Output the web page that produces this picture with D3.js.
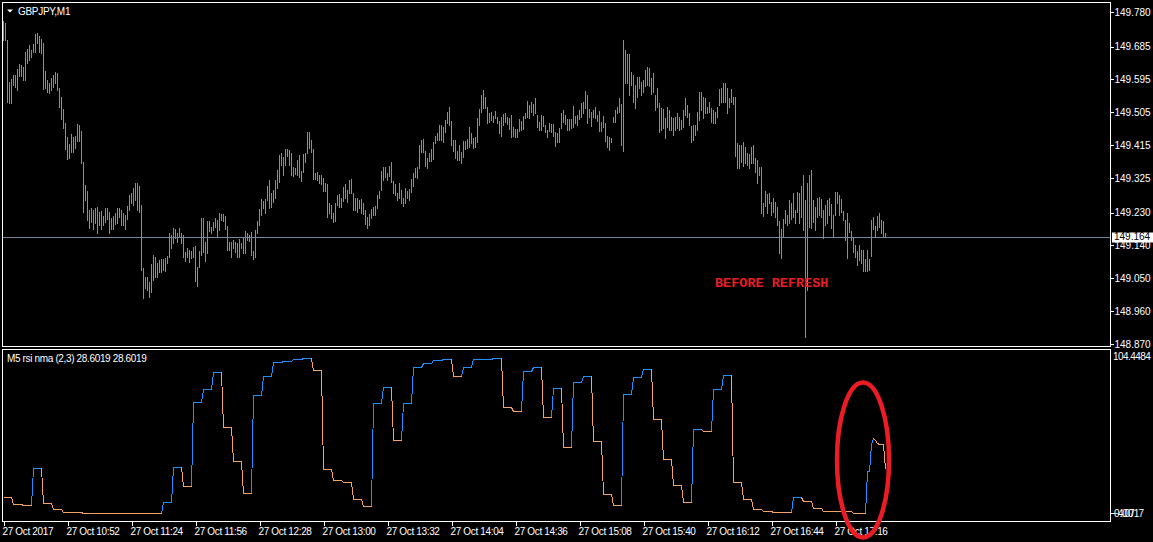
<!DOCTYPE html>
<html><head><meta charset="utf-8">
<script src="https://cdn.jsdelivr.net/npm/d3@7"></script>
<style>
html,body{margin:0;padding:0;background:#000;overflow:hidden;}
svg{display:block;}
text{font-family:"Liberation Sans",Arial,sans-serif;}
</style></head>
<body>
<svg id="chart" width="1153" height="542"></svg>
<script>
// ---------------- DATA ----------------
const symbolTitle = "GBPJPY,M1";
const indicatorTitle = "M5 rsi nma (2,3) 28.6019 28.6019";
const firstBarTime = "2017-10-27T10:20";
const currentPrice = 149.164;
const annotation = "BEFORE REFRESH";

// M1 bar highs (one per minute from 10:20)
const barHigh = [
149.755,149.750,149.703,149.589,149.596,149.607,149.607,149.623,149.637,149.634,
149.629,149.670,149.678,149.689,149.676,149.692,149.720,149.722,149.714,149.706,
149.695,149.618,149.594,149.586,149.599,149.607,149.615,149.613,149.572,149.547,
149.514,149.476,149.438,149.418,149.446,149.438,149.440,149.473,149.470,149.454,
149.369,149.306,149.290,149.237,149.243,149.237,149.243,149.246,149.232,149.235,
149.221,149.243,149.243,149.232,149.216,149.221,149.229,149.243,149.243,149.237,
149.229,149.224,149.248,149.278,149.284,149.298,149.311,149.311,149.303,149.251,
149.078,149.054,149.054,149.040,149.089,149.114,149.108,149.092,149.100,149.103,
149.103,149.106,149.111,149.175,149.169,149.188,149.185,149.175,149.188,149.175,
149.169,149.122,149.133,149.128,149.125,149.136,149.139,149.081,149.125,149.216,
149.216,149.150,149.207,149.207,149.191,149.205,149.216,149.210,149.229,149.227,
149.227,149.221,149.194,149.150,149.150,149.155,149.150,149.147,149.158,149.147,
149.161,149.180,149.175,149.169,149.177,149.125,149.183,149.207,149.240,149.268,
149.262,149.268,149.303,149.320,149.284,149.292,149.320,149.347,149.388,149.393,
149.382,149.405,149.405,149.402,149.393,149.355,149.352,149.374,149.388,149.344,
149.391,149.393,149.451,149.451,149.429,149.405,149.339,149.341,149.333,149.333,
149.325,149.311,149.309,149.257,149.251,149.229,149.257,149.278,149.281,149.270,
149.300,149.309,149.292,149.320,149.322,149.284,149.270,149.270,149.265,149.268,
149.257,149.237,149.218,149.227,149.240,149.246,149.248,149.278,149.289,149.344,
149.355,149.355,149.339,149.358,149.369,149.317,149.309,149.284,149.311,149.292,
149.270,149.298,149.289,149.295,149.322,149.339,149.352,149.355,149.416,149.429,
149.432,149.399,149.380,149.393,149.405,149.424,149.440,149.448,149.470,149.470,
149.465,149.484,149.506,149.520,149.481,149.429,149.429,149.399,149.416,149.396,
149.426,149.426,149.432,149.465,149.448,149.435,149.438,149.489,149.514,149.553,
149.566,149.547,149.520,149.503,149.506,149.495,149.509,149.492,149.481,149.492,
149.501,149.503,149.492,149.489,149.498,149.465,149.459,149.459,149.487,149.481,
149.495,149.503,149.536,149.525,149.534,149.528,149.544,149.498,149.479,149.498,
149.495,149.470,149.457,149.476,149.473,149.473,149.451,149.448,149.462,149.503,
149.511,149.498,149.487,149.487,149.487,149.522,149.495,149.498,149.511,149.531,
149.534,149.564,149.553,149.514,149.506,149.511,149.520,149.498,149.509,149.479,
149.495,149.476,149.440,149.438,149.435,149.492,149.511,149.520,149.544,149.528,
149.703,149.676,149.665,149.665,149.615,149.607,149.580,149.602,149.602,149.589,
149.594,149.621,149.629,149.626,149.599,149.613,149.553,149.572,149.531,149.517,
149.514,149.489,149.520,149.511,149.492,149.489,149.492,149.503,149.492,149.484,
149.511,149.544,149.525,149.503,149.468,149.470,149.470,149.506,149.561,149.561,
149.547,149.544,149.520,149.534,149.517,149.511,149.506,149.520,149.569,149.572,
149.586,149.586,149.572,149.544,149.569,149.547,149.547,149.421,149.416,149.416,
149.424,149.410,149.393,149.391,149.410,149.416,149.380,149.374,149.355,149.355,
149.257,149.289,149.281,149.284,149.259,149.270,149.259,149.246,149.207,149.185,
149.213,149.237,149.224,149.265,149.257,149.284,149.237,149.287,149.284,149.303,
149.333,149.265,149.311,149.333,149.347,149.265,149.246,149.270,149.273,149.268,
149.237,149.251,149.265,149.270,149.254,149.224,149.287,149.287,149.278,149.268,
149.235,149.210,149.229,149.202,149.180,149.164,149.142,149.125,149.142,149.128,
149.128,149.103,149.128,149.103,149.210,149.218,149.194,149.221,149.229,149.210,
149.207,149.175];

// M1 bar lows
const barLow = [
149.703,149.703,149.534,149.531,149.531,149.580,149.575,149.566,149.605,149.605,
149.594,149.594,149.640,149.648,149.657,149.670,149.670,149.695,149.670,149.667,
149.569,149.572,149.561,149.558,149.566,149.575,149.586,149.566,149.520,149.487,
149.462,149.405,149.377,149.380,149.396,149.396,149.407,149.426,149.426,149.366,
149.232,149.265,149.210,149.189,149.205,149.186,149.202,149.175,149.197,149.186,
149.197,149.205,149.213,149.175,149.185,149.186,149.199,149.202,149.218,149.197,
149.197,149.185,149.213,149.237,149.257,149.251,149.265,149.237,149.232,149.073,
148.996,149.024,149.018,148.999,149.013,149.045,149.054,149.054,149.067,149.067,
149.073,149.070,149.092,149.108,149.133,149.147,149.161,149.150,149.164,149.147,
149.108,149.097,149.108,149.095,149.106,149.108,149.043,149.029,149.081,149.114,
149.122,149.097,149.119,149.180,149.175,149.183,149.191,149.164,149.183,149.210,
149.207,149.186,149.128,149.128,149.108,149.133,149.122,149.108,149.108,149.133,
149.119,149.119,149.155,149.152,149.114,149.103,149.108,149.175,149.197,149.224,
149.243,149.229,149.265,149.243,149.246,149.259,149.270,149.298,149.314,149.361,
149.333,149.361,149.385,149.361,149.333,149.331,149.336,149.333,149.328,149.317,
149.341,149.369,149.393,149.407,149.396,149.322,149.322,149.320,149.311,149.309,
149.289,149.289,149.218,149.229,149.216,149.205,149.207,149.251,149.246,149.246,
149.262,149.270,149.259,149.284,149.284,149.237,149.237,149.232,149.243,149.229,
149.227,149.199,149.188,149.197,149.216,149.224,149.224,149.243,149.270,149.292,
149.320,149.328,149.320,149.331,149.314,149.284,149.278,149.265,149.270,149.257,
149.248,149.257,149.270,149.265,149.287,149.303,149.328,149.325,149.352,149.396,
149.396,149.358,149.352,149.372,149.372,149.377,149.421,149.429,149.429,149.429,
149.424,149.451,149.476,149.470,149.416,149.399,149.380,149.374,149.374,149.366,
149.382,149.405,149.407,149.410,149.421,149.407,149.410,149.424,149.470,149.506,
149.517,149.517,149.476,149.479,149.484,149.479,149.490,149.476,149.448,149.440,
149.470,149.479,149.473,149.459,149.438,149.440,149.438,149.438,149.454,149.457,
149.459,149.490,149.492,149.490,149.506,149.498,149.503,149.465,149.457,149.457,
149.468,149.451,149.438,149.454,149.451,149.440,149.413,149.424,149.424,149.462,
149.479,149.473,149.457,149.457,149.462,149.465,149.476,149.470,149.487,149.492,
149.503,149.517,149.476,149.492,149.468,149.492,149.490,149.481,149.454,149.454,
149.465,149.426,149.410,149.402,149.424,149.479,149.479,149.503,149.506,149.416,
149.399,149.586,149.586,149.553,149.580,149.534,149.517,149.547,149.572,149.553,
149.561,149.577,149.580,149.577,149.555,149.561,149.511,149.520,149.451,149.457,
149.462,149.435,149.465,149.457,149.457,149.443,149.457,149.462,149.457,149.459,
149.465,149.498,149.492,149.470,149.424,149.429,149.443,149.457,149.484,149.511,
149.490,149.503,149.503,149.506,149.479,149.476,149.476,149.492,149.525,149.534,
149.534,149.534,149.503,149.520,149.534,149.528,149.385,149.352,149.352,149.369,
149.358,149.366,149.361,149.352,149.366,149.366,149.341,149.311,149.333,149.229,
149.221,149.248,149.229,149.257,149.224,149.232,149.218,149.197,149.119,149.106,
149.164,149.202,149.197,149.202,149.213,149.218,149.202,149.232,149.202,149.218,
149.183,148.889,149.018,149.191,149.188,149.205,149.183,149.218,149.224,149.218,
149.161,149.197,149.202,149.224,149.188,149.164,149.224,149.257,149.224,149.232,
149.210,149.155,149.106,149.177,149.155,149.122,149.108,149.087,149.100,149.092,
149.070,149.070,149.070,149.073,149.111,149.185,149.164,149.183,149.191,149.175,
149.164,149.164];

// RSI (M5 nma) : bar index where a new value starts, and that value
const rsiStartBar = [0,5,10,15,20,25,30,40,80,85,90,95,100,105,110,115,120,125,130,135,
  140,145,150,155,160,165,170,175,180,185,190,195,200,205,210,215,220,225,230,235,
  240,245,250,255,260,265,270,275,280,285,290,295,300,305,310,315,320,325,330,335,
  340,345,350,355,360,365,370,375,380,385,390,395,400,405,410,425,432,434,435,436,437,438,441];
const rsiValue = [10.4,5.7,5.3,29.4,6.8,2.5,0.8,0.0,7.0,29.9,17.5,71.4,79.7,90.7,55.3,33.6,12.8,76.1,88.6,97.1,
  98.2,99.0,99.7,92.2,28.5,21.4,19.9,9.1,4.6,70.7,81.0,47.1,70.7,94.3,96.4,98.6,99.3,88.3,93.9,99.0,
  99.2,99.7,68.6,65.8,91.7,93.9,61.7,80.4,42.4,84.2,88.3,46.5,12.4,5.3,76.7,87.4,92.6,60.4,34.9,17.9,
  7.4,54.0,52.9,79.7,88.9,19.9,8.9,2.5,1.4,0.8,0.6,10.6,7.9,3.1,1.4,0.0,27.4,44.5,48.2,47.0,45.5,44.5,28.6019];

const priceTicks = [149.780,149.685,149.595,149.505,149.415,149.325,149.230,149.140,149.050,148.960,148.870];
const rsiMax = 104.4484, rsiMin = -4.0717;
const timeTickTimes = ["10:20","10:52","11:24","11:56","12:28","13:00","13:32","14:04","14:36","15:08","15:40","16:12","16:44","17:16"];
const timeTickLabels = ["27 Oct 2017","27 Oct 10:52","27 Oct 11:24","27 Oct 11:56","27 Oct 12:28","27 Oct 13:00","27 Oct 13:32","27 Oct 14:04","27 Oct 14:36","27 Oct 15:08","27 Oct 15:40","27 Oct 16:12","27 Oct 16:44","27 Oct 17:16"];

// ---------------- DRAW ----------------
const svg = d3.select("#chart");
const W = 1153, H = 542;
const main = {x0:2.5, y0:2.5, x1:1110.5, y1:346.5};
const sub  = {x0:2.5, y0:349.5, x1:1110.5, y1:521.5};
const white = "#ffffff", barColor = "#32d21e", upColor = "#1e90ff", dnColor = "#f4a460";

svg.append("rect").attr("width", W).attr("height", H).attr("fill", "#000");

const t0 = d3.isoParse(firstBarTime + ":00");
const parseTime = s => { const [h,m] = s.split(":").map(Number); const d = new Date(t0); d.setHours(h, m, 0, 0); return d; };
const t0Local = parseTime("10:20");
const barTimes = barHigh.map((_, i) => d3.timeMinute.offset(t0Local, i));

const x = d3.scaleTime()
  .domain([t0Local, d3.timeMinute.offset(t0Local, 553)])
  .range([3, 1109]);
const y = d3.scaleLinear().domain([148.870, 149.780]).range([344, 12]);
const yR = d3.scaleLinear().domain([rsiMin, rsiMax]).range([519.5, 351]);

const defs = svg.append("defs");
defs.append("clipPath").attr("id","clipMain").append("rect")
  .attr("x", main.x0 + 0.5).attr("y", main.y0 + 0.5).attr("width", main.x1 - main.x0 - 1).attr("height", main.y1 - main.y0 - 1);
defs.append("clipPath").attr("id","clipSub").append("rect")
  .attr("x", sub.x0 + 0.5).attr("y", sub.y0 + 0.5).attr("width", sub.x1 - sub.x0 - 1).attr("height", sub.y1 - sub.y0 - 1);

// price bars
const gBars = svg.append("g").attr("clip-path","url(#clipMain)").attr("shape-rendering","crispEdges");
gBars.selectAll("line.bar").data(barHigh).join("line")
  .attr("class","bar")
  .attr("x1", (d,i) => Math.round(x(barTimes[i])) + 0.5)
  .attr("x2", (d,i) => Math.round(x(barTimes[i])) + 0.5)
  .attr("y1", d => Math.round(y(d)))
  .attr("y2", (d,i) => Math.round(y(barLow[i])) + 1)
  .attr("stroke", barColor).attr("stroke-width", 1);

// current price line
gBars.append("line")
  .attr("x1", main.x0).attr("x2", main.x1)
  .attr("y1", Math.round(y(currentPrice)) + 0.5).attr("y2", Math.round(y(currentPrice)) + 0.5)
  .attr("stroke", "#778899").attr("stroke-width", 1);

// annotation
svg.append("text").text(annotation)
  .attr("x", 715).attr("y", 287)
  .attr("fill", "#ea1c24")
  .style("font-family", "'Liberation Mono','DejaVu Sans Mono',monospace")
  .style("font-weight", "bold").style("font-size", "13.5px").style("letter-spacing", "0px");

// panel borders
svg.append("rect").attr("x", main.x0).attr("y", main.y0).attr("width", main.x1 - main.x0).attr("height", main.y1 - main.y0)
  .attr("fill","none").attr("stroke", white).attr("shape-rendering","crispEdges");
svg.append("rect").attr("x", sub.x0).attr("y", sub.y0).attr("width", sub.x1 - sub.x0).attr("height", sub.y1 - sub.y0)
  .attr("fill","none").attr("stroke", white).attr("shape-rendering","crispEdges");

// price axis
const axP = svg.append("g").attr("transform", `translate(${main.x1},0)`)
  .call(d3.axisRight(y).tickValues(priceTicks).tickSize(3).tickPadding(1).tickFormat(d3.format(".3f")));
axP.select(".domain").remove();
axP.selectAll(".tick line").attr("stroke", white).attr("shape-rendering","crispEdges");
axP.selectAll(".tick text").attr("fill", white).style("font-size","10px").style("font-family","'Liberation Sans',sans-serif");

// current price label
const cp = svg.append("g").attr("transform", `translate(1112,${Math.round(y(currentPrice))})`);
cp.append("rect").attr("x", 0).attr("y", -4.5).attr("width", 41).attr("height", 10).attr("fill", white);
cp.append("text").text(d3.format(".3f")(currentPrice)).attr("x", 2).attr("y", 0).attr("dy","0.34em")
  .attr("fill", "#000").style("font-size","10px");

// titles
svg.append("path").attr("d", "M7,9.5 L13,9.5 L10,12.5 Z").attr("fill", white);
svg.append("text").text(symbolTitle).attr("x", 18).attr("y", 14.5).attr("fill", white)
  .style("font-size","10px").style("letter-spacing","-0.3px");
svg.append("text").text(indicatorTitle).attr("x", 7).attr("y", 361.5).attr("fill", white)
  .style("font-size","10px").style("letter-spacing","-0.35px");

// RSI line: step points
const pts = [];
rsiStartBar.forEach((b, j) => {
  const next = j < rsiStartBar.length - 1 ? rsiStartBar[j+1] : barHigh.length;
  pts.push({i: b, v: rsiValue[j]});
  if (next - 1 > b) pts.push({i: next - 1, v: rsiValue[j]});
});
const segs = [];
let prevColor = dnColor;
for (let k = 1; k < pts.length; k++) {
  const a = pts[k-1], b = pts[k];
  let c = b.v > a.v ? upColor : (b.v < a.v ? dnColor : prevColor);
  prevColor = c;
  if (segs.length && segs[segs.length-1].color === c) segs[segs.length-1].pts.push(b);
  else segs.push({color: c, pts: [a, b]});
}
const rsiLine = d3.line().x(d => Math.round(x(barTimes[d.i])) + 0.5).y(d => Math.round(yR(d.v)) + 0.5);
svg.append("g").attr("clip-path","url(#clipSub)")
  .selectAll("path").data(segs).join("path")
  .attr("d", d => rsiLine(d.pts)).attr("fill","none")
  .attr("stroke", d => d.color).attr("stroke-width", 1).attr("shape-rendering","crispEdges");

// RSI scale labels
svg.append("text").text(d3.format(".4f")(rsiMax)).attr("x", 1113).attr("y", 359.5).attr("fill", white)
  .style("font-size","10px").style("letter-spacing","-0.55px");
svg.append("line").attr("x1", sub.x1).attr("x2", sub.x1 + 3).attr("y1", 513.5).attr("y2", 513.5).attr("stroke", white).attr("shape-rendering","crispEdges");
svg.append("text").text("0.00").attr("x", 1114).attr("y", 517).attr("fill", white).style("font-size","10px");
svg.append("text").text(d3.format(".4f")(rsiMin)).attr("x", 1113).attr("y", 517).attr("fill", white)
  .style("font-size","10px").style("letter-spacing","-0.9px");

// time axis
const axT = svg.append("g").attr("transform", `translate(0.5,${sub.y1})`)
  .call(d3.axisBottom(x).tickValues(timeTickTimes.map(parseTime)).tickSize(4).tickPadding(2)
    .tickFormat((d,i) => timeTickLabels[i]));
axT.select(".domain").remove();
axT.selectAll(".tick line").attr("stroke", white).attr("shape-rendering","crispEdges");
axT.selectAll(".tick text").attr("fill", white).attr("text-anchor","start").attr("dx", "-1.5px")
  .style("font-size","10px").style("letter-spacing","-0.35px").style("font-family","'Liberation Sans',sans-serif");

// red ellipse
svg.append("ellipse").attr("cx", 863).attr("cy", 460).attr("rx", 26).attr("ry", 77.5)
  .attr("fill","none").attr("stroke", "#ec1c24").attr("stroke-width", 4.5);
</script>
</body></html>
